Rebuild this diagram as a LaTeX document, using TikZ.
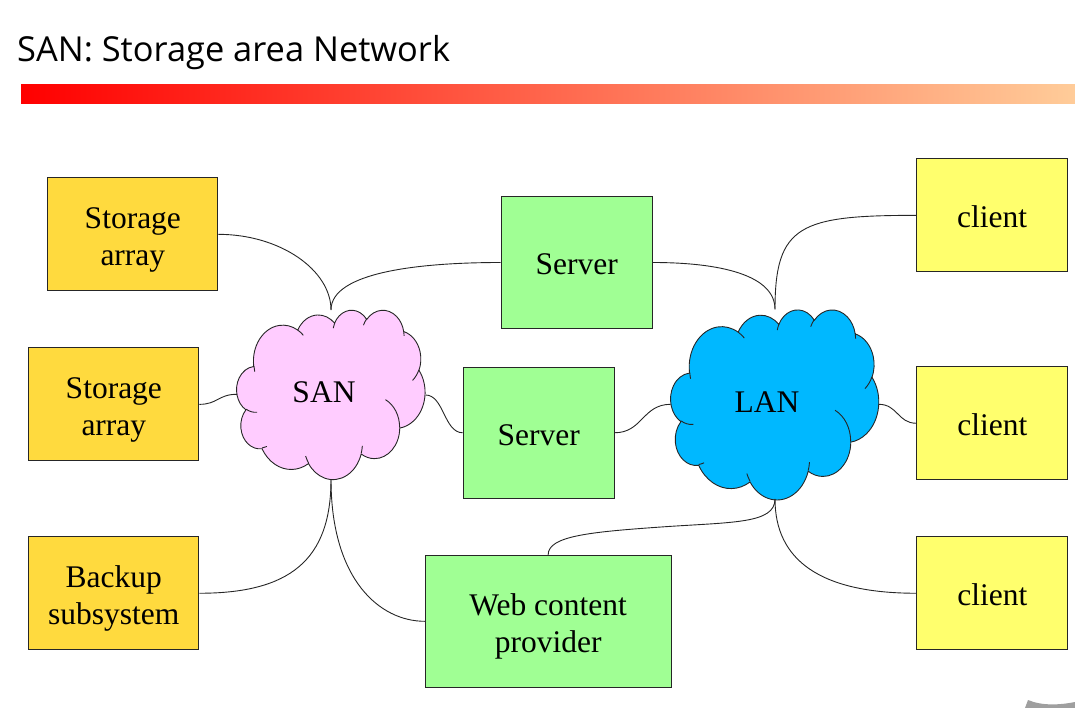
\documentclass[tikz,border=0pt]{standalone}
\usepackage{fontspec}
\setmainfont{Liberation Serif}
\newfontfamily\titlefont{Open Sans}
\definecolor{storecol}{HTML}{FFDA3E}
\definecolor{srvcol}{HTML}{A0FF94}
\definecolor{clicol}{HTML}{FFFF6D}
\definecolor{sancol}{HTML}{FFCCFF}
\definecolor{lancol}{HTML}{00B8FF}
\definecolor{barend}{HTML}{FFCC99}
\definecolor{edgecol}{HTML}{262626}
\newcommand\lift[1]{\rule{0pt}{#1pt}}
\tikzset{
  box/.style={draw=edgecol, line width=1pt, inner sep=0pt, align=center,
    font=\fontsize{31.5}{37}\selectfont},
  storebox/.style={box, fill=storecol, minimum width=170pt, minimum height=113pt},
  srvbox/.style={box, fill=srvcol, minimum width=151pt, minimum height=131pt},
  clibox/.style={box, fill=clicol, minimum width=151pt, minimum height=113pt},
  link/.style={draw=edgecol, line width=0.9pt},
  cloudline/.style={draw=edgecol, line width=0.9pt},
  cloudtext/.style={font=\fontsize{31.5}{37}\selectfont, inner sep=0pt}
}
% elliptical arc in the manner of the OOXML arcTo (visual angles)
\newcommand\carc[4]{arc[x radius=#1pt, y radius=#2pt,
  start angle={atan2(#1*sin(#3),#2*cos(#3))},
  delta angle={mod(atan2(#1*sin(#3+#4),#2*cos(#3+#4))-atan2(#1*sin(#3),#2*cos(#3))+720,360)}]}
\newcommand\cloudshape[5]{%
\begin{scope}[shift={(#1,#2)}, xscale=#3/432, yscale=#4/432]
\path[fill=#5, cloudline] (39,143.7)
  \carc{67.53}{91.90}{-190.4875}{123.7805}
  \carc{53.33}{72.67}{-144.1024}{89.9452}
  \carc{43.65}{59.45}{-145.8079}{99.7230}
  \carc{48.57}{65.95}{-130.9861}{117.2417}
  \carc{53.33}{72.73}{-78.7089}{109.0269}
  \carc{67.75}{92.20}{-46.2673}{130.2690}
  \carc{57.85}{78.67}{0.6250}{114.0333}
  \carc{67.52}{92.15}{22.4516}{115.1726}
  \carc{77.20}{105.43}{66.2426}{75.7110}
  \carc{43.60}{59.18}{-274.9421}{146.7356}
  \carc{43.45}{59.45}{-246.8285}{152.5189}
  -- cycle;
\path[cloudline]
  (46.93,261.77) \carc{43.45}{59.45}{86.742}{26.4295}
  (69.28,348.99) \carc{43.60}{59.18}{73.6105}{11.4475}
  (164.78,390.90) \carc{67.52}{92.15}{137.6242}{14.0811}
  (288.27,347.51) \carc{67.52}{92.15}{6.4533}{15.9984}
  (341.29,229.54) \carc{57.85}{78.67}{-70.2924}{70.9174}
  (417.98,153.54) \carc{53.33}{72.73}{30.3180}{27.7515}
  (383.24,54.26) \carc{48.57}{65.95}{-13.7443}{14.8589}
  (290.78,39.52) \carc{48.57}{65.95}{-149.1815}{18.1954}
  (221.41,47.20) \carc{43.65}{59.45}{-163.4943}{17.6864}
  (140.00,51.92) \carc{67.53}{91.90}{-66.7070}{12.3194}
  (41.27,157.89) \carc{67.53}{91.90}{162.0352}{11.8539};
\end{scope}}
\begin{document}
\begin{tikzpicture}[x=1pt,y=1pt,yscale=-1]
\useasboundingbox (0,0) rectangle (1075,708);
% title and bar
\node[anchor=base west, inner sep=0pt, font=\titlefont\fontsize{34.4}{41}\selectfont] (title) at (17,61.7) {SAN: Storage area Network};
\shade[left color=red, right color=barend] (21,85) rectangle (1075,103.3);
% clouds
\cloudshape{236.7}{309.7}{188.3}{169.3}{sancol}
\cloudshape{670.7}{309.3}{208}{190}{lancol}
\node[cloudtext] (san) at (324,392.5) {SAN};
\node[cloudtext] (lan) at (767,402.5) {LAN};
\coordinate (sant) at (331,310);
\coordinate (sanb) at (331,479.3);
\coordinate (sanl) at (237,394.3);
\coordinate (sanr) at (425.5,395);
\coordinate (lant) at (775,309.3);
\coordinate (lanb) at (775,499);
\coordinate (lanl) at (670.7,404.3);
\coordinate (lanr) at (878.7,404.3);
% boxes
\node[storebox] (sa1) at (132.85,234.35) {\lift{32}Storage\\array};
\node[storebox] (sa2) at (113.85,404.35) {\lift{32}Storage\\array};
\node[storebox] (bk) at (113.75,593.25) {\lift{32}Backup\\subsystem};
\node[srvbox] (srv1) at (576.65,262.5) {\lift{25}Server};
\node[srvbox] (srv2) at (538.65,432.75) {\lift{25}Server};
\node[srvbox, minimum width=245.7pt, minimum height=132pt] (web) at (548.15,621.3) {\lift{32}Web content\\provider};
\node[clibox] (c1) at (992.2,215.35) {\lift{25}client};
\node[clibox] (c2) at (992.25,423.25) {\lift{25}client};
\node[clibox] (c3) at (992.25,593.25) {\lift{25}client};
% connectors
\draw[link] (sa1.east) .. controls (280,234.3) and (331,270) .. (sant);
\draw[link] (srv1.west) .. controls (420,262.5) and (331,272) .. (sant);
\draw[link] (sa2.east) .. controls (218,404.3) and (218,394.3) .. (sanl);
\draw[link] (sanr) .. controls (444,395) and (444,432.7) .. (srv2.west);
\draw[link] (sanb) .. controls (331,560) and (290,593.25) .. (bk.east);
\draw[link] (sanb) .. controls (331,580) and (380,621.3) .. (web.west);
\draw[link] (srv1.east) .. controls (720,262.5) and (775,275) .. (lant);
\draw[link] (c1.west) .. controls (800,215.35) and (775,225) .. (lant);
\draw[link] (srv2.east) .. controls (642.5,432.75) and (642.5,404.3) .. (lanl);
\draw[link] (lanr) .. controls (897.7,404.3) and (897.7,423.25) .. (c2.west);
\draw[link] (lanb) .. controls (775,560) and (820,593.25) .. (c3.west);
\draw[link] (web.north) .. controls (548,536) and (590,532) .. (661,527) .. controls (732,522) and (775,524) .. (lanb);
% corner mark
\fill[gray!75] (1025,708) -- (1028,700) .. controls (1042,706) and (1060,705) .. (1075,702) -- (1075,708) -- cycle;
\end{tikzpicture}
\end{document}
